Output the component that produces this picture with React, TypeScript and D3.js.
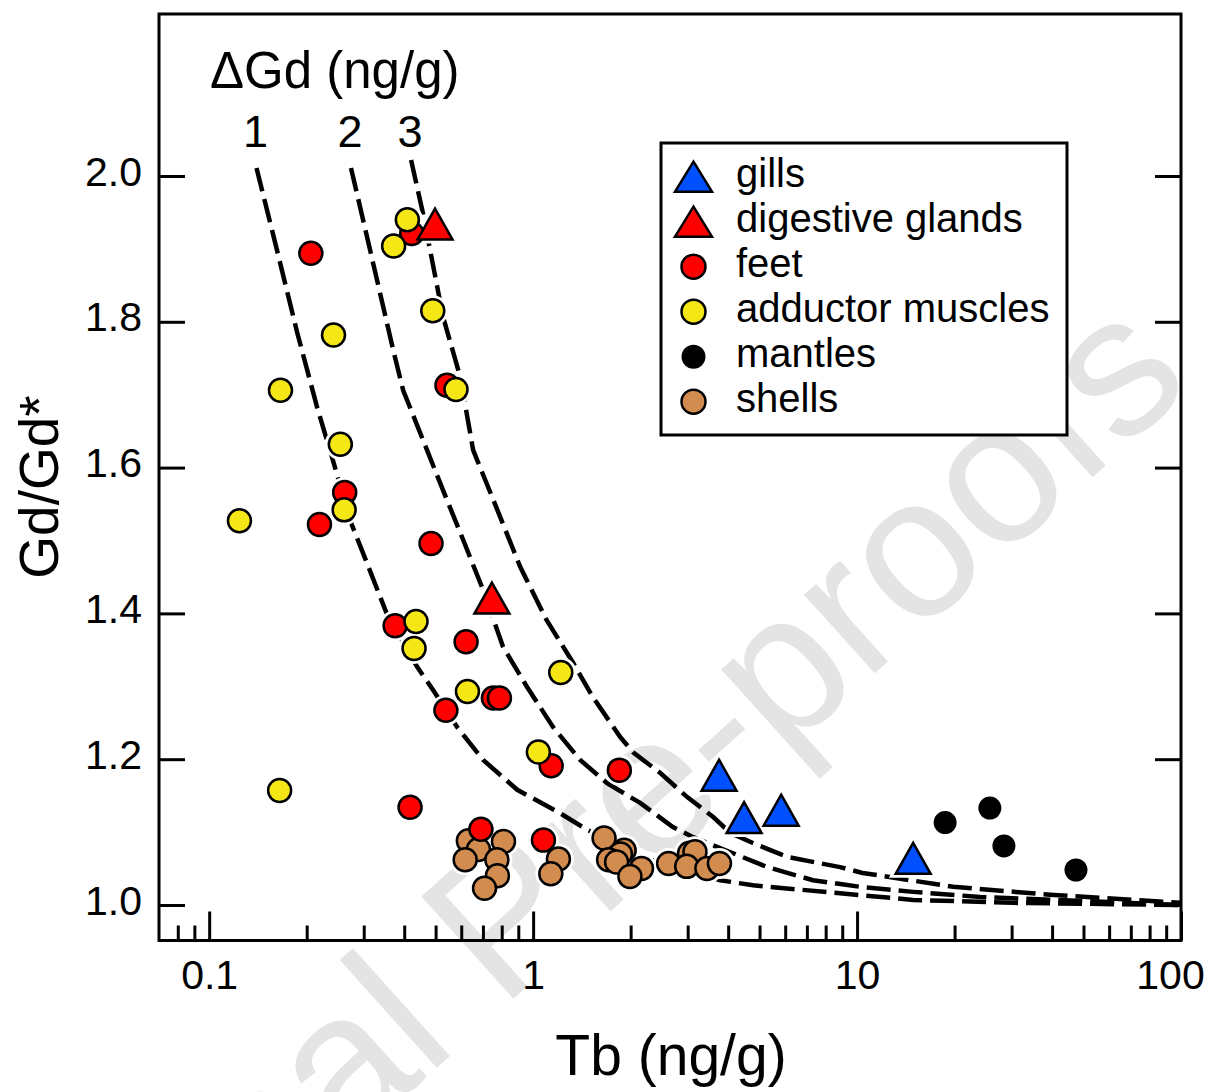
import React, { useEffect, useRef } from "react";
import * as d3 from "d3";

// dashed ΔGd reference curves
const curve1Tb = [0.14, 0.162, 0.187, 0.215, 0.241, 0.272, 0.307, 0.353, 0.438, 0.491, 0.583, 0.701, 0.893, 1.21, 1.47, 2.2, 3.78, 4.77, 8.86, 14.9, 30.3, 100];
const curve1Val = [2.011, 1.898, 1.785, 1.684, 1.61, 1.528, 1.469, 1.4, 1.327, 1.295, 1.244, 1.199, 1.158, 1.126, 1.103, 1.065, 1.034, 1.027, 1.016, 1.007, 1.003, 1.0];
const curve2Tb = [0.274, 0.314, 0.37, 0.397, 0.457, 0.527, 0.608, 0.701, 0.808, 0.958, 1.153, 1.397, 1.692, 2.14, 2.7, 3.12, 4.14, 5.28, 7.31, 10.2, 14.9, 24, 100];
const curve2Val = [2.011, 1.898, 1.761, 1.706, 1.638, 1.569, 1.501, 1.432, 1.354, 1.299, 1.244, 1.199, 1.167, 1.14, 1.107, 1.093, 1.071, 1.052, 1.034, 1.025, 1.018, 1.011, 1.0];
const curve3Tb = [0.42, 0.457, 0.481, 0.527, 0.596, 0.653, 0.753, 0.912, 1.1, 1.33, 1.53, 1.86, 2.04, 2.47, 2.99, 3.59, 4.06, 4.77, 6.08, 8.86, 10.4, 19.8, 39.4, 100];
const curve3Val = [2.022, 1.949, 1.898, 1.807, 1.724, 1.624, 1.556, 1.464, 1.391, 1.332, 1.285, 1.23, 1.209, 1.181, 1.148, 1.121, 1.099, 1.085, 1.066, 1.052, 1.044, 1.025, 1.014, 1.003];
const curveLabels = ["1", "2", "3"];

// samples: Tb (ng/g) and Gd/Gd*
const gillsTb = [3.75, 4.48, 5.83, 14.9];
const gillsRatio = [1.178, 1.12, 1.13, 1.064];
const digestiveTb = [0.498, 0.746];
const digestiveRatio = [1.934, 1.421];
const feetTb = [0.206, 0.422, 0.542, 0.262, 0.219, 0.484, 0.375, 0.621, 0.538, 0.754, 0.787, 1.137, 0.417, 0.69, 1.076, 1.846];
const feetRatio = [1.894, 1.921, 1.713, 1.566, 1.522, 1.496, 1.383, 1.361, 1.267, 1.284, 1.284, 1.191, 1.134, 1.104, 1.089, 1.185];
const adductorTb = [0.409, 0.371, 0.49, 0.242, 0.166, 0.578, 0.254, 0.261, 0.124, 0.435, 0.429, 0.627, 1.217, 1.038, 0.165];
const adductorRatio = [1.94, 1.904, 1.815, 1.782, 1.706, 1.707, 1.632, 1.542, 1.527, 1.389, 1.352, 1.293, 1.319, 1.21, 1.157];
const mantlesTb = [18.7, 25.7, 28.4, 47.4];
const mantlesRatio = [1.113, 1.133, 1.081, 1.048];
const shellsTb = [0.631, 0.678, 0.617, 0.81, 0.773, 0.776, 0.708, 1.197, 1.134, 1.656, 1.91, 1.86, 1.71, 1.81, 2.16, 1.99, 2.62, 3.04, 3.16, 2.98, 3.44, 3.76];
const shellsRatio = [1.088, 1.076, 1.062, 1.087, 1.062, 1.04, 1.023, 1.063, 1.043, 1.092, 1.075, 1.07, 1.062, 1.059, 1.05, 1.039, 1.057, 1.071, 1.073, 1.053, 1.05, 1.057];

const legendLabels = ["gills", "digestive glands", "feet", "adductor muscles", "mantles", "shells"];

const xMajor = [0.1, 1, 10, 100];
const xTickLabels = ["0.1", "1", "10", "100"];
const xMinor = [0.08, 0.09, 0.2, 0.3, 0.4, 0.5, 0.6, 0.7, 0.8, 0.9, 2, 3, 4, 5, 6, 7, 8, 9, 20, 30, 40, 50, 60, 70, 80, 90];
const yTicks = [1.0, 1.2, 1.4, 1.6, 1.8, 2.0];
const yTickLabels = ["1.0", "1.2", "1.4", "1.6", "1.8", "2.0"];

const App = () => {
  const svgRef = useRef<SVGSVGElement>(null);

  useEffect(() => {
    const svg = d3.select(svgRef.current);
    svg.selectAll("*").remove();

    const width = 1209;
    const height = 1092;
    const plot = { left: 159, right: 1181, top: 14, bottom: 940.5 };
    const font = "'Liberation Sans', Arial, sans-serif";

    const x = d3.scaleLog().domain([0.07, 100]).range([plot.left, plot.right]);
    const y = d3.scaleLinear().domain([0.9513, 2.2222]).range([plot.bottom, plot.top]);

    svg.append("rect").attr("width", width).attr("height", height).attr("fill", "#fff");

    // watermark
    svg.append("text")
      .attr("transform", "translate(1195,385) rotate(-42)")
      .attr("text-anchor", "end")
      .attr("font-family", font)
      .attr("font-size", 200)
      .attr("fill", "#e4e4e4")
      .text("Journal Pre-proofs");

    // dashed curves
    const curves = [
      { tb: curve1Tb, v: curve1Val },
      { tb: curve2Tb, v: curve2Val },
      { tb: curve3Tb, v: curve3Val },
    ];
    curves.forEach(c => {
      const line = d3.line<number>()
        .x((d, i) => x(c.tb[i]))
        .y(d => y(d));
      svg.append("path")
        .attr("d", line(c.v))
        .attr("fill", "none")
        .attr("stroke", "#000")
        .attr("stroke-width", 4.5)
        .attr("stroke-dasharray", "24 8");
    });

    curves.forEach((c, i) => {
      svg.append("text")
        .attr("x", x(c.tb[0]) - 1)
        .attr("y", 147)
        .attr("text-anchor", "middle")
        .attr("font-family", font)
        .attr("font-size", 45)
        .text(curveLabels[i]);
    });

    svg.append("text")
      .attr("x", 210)
      .attr("y", 88)
      .attr("font-family", font)
      .attr("font-size", 51)
      .text("ΔGd (ng/g)");

    // markers
    const tri = (w: number, h: number) => `M0,${-h / 2}L${w / 2},${h / 2}L${-w / 2},${h / 2}Z`;
    const series = [
      { tb: shellsTb, v: shellsRatio, shape: "circle", fill: "#d28c50", stroke: true },
      { tb: mantlesTb, v: mantlesRatio, shape: "circle", fill: "#000", stroke: false },
      { tb: feetTb, v: feetRatio, shape: "circle", fill: "#ff0000", stroke: true },
      { tb: adductorTb, v: adductorRatio, shape: "circle", fill: "#f5e616", stroke: true },
      { tb: gillsTb, v: gillsRatio, shape: "tri", fill: "#0050ff", stroke: true },
      { tb: digestiveTb, v: digestiveRatio, shape: "tri", fill: "#ff0000", stroke: true },
    ];

    const drawMark = (g: any, shape: string, cx: number, cy: number) =>
      shape === "circle"
        ? g.append("circle").attr("cx", cx).attr("cy", cy).attr("r", 11.5)
        : g.append("path").attr("d", tri(35, 31)).attr("transform", `translate(${cx},${cy})`);

    const halo = svg.append("g");
    series.forEach(s => {
      s.tb.forEach((t, i) => {
        drawMark(halo, s.shape, x(t), y(s.v[i]))
          .attr("fill", "#fff")
          .attr("stroke", "#fff")
          .attr("stroke-width", 8);
      });
    });

    const marks = svg.append("g");
    series.forEach(s => {
      s.tb.forEach((t, i) => {
        drawMark(marks, s.shape, x(t), y(s.v[i]))
          .attr("fill", s.fill)
          .attr("stroke", s.stroke ? "#000" : "none")
          .attr("stroke-width", 2.5)
          .attr("stroke-linejoin", "miter");
      });
    });

    // axes
    const styleAxis = (g: any) => {
      g.select(".domain").remove();
      g.selectAll("line").attr("stroke", "#000").attr("stroke-width", 3);
      g.selectAll("text").attr("font-family", font).attr("font-size", 41).attr("fill", "#000");
    };

    svg.append("g")
      .attr("transform", `translate(0,${plot.bottom})`)
      .call(d3.axisBottom(x).tickValues(xMinor).tickSize(-15).tickFormat(() => ""))
      .call(styleAxis);

    svg.append("g")
      .attr("transform", `translate(0,${plot.bottom})`)
      .call(d3.axisBottom(x).tickValues(xMajor).tickSize(-29).tickPadding(19)
        .tickFormat((d, i) => xTickLabels[i]))
      .call(styleAxis)
      // keep the last label inside the page, as in the original
      .call((g: any) => g.selectAll("text").filter((d: number) => d === 100).attr("x", -11));

    svg.append("g")
      .attr("transform", `translate(${plot.left},0)`)
      .call(d3.axisLeft(y).tickValues(yTicks).tickSize(-26).tickPadding(17)
        .tickFormat((d, i) => yTickLabels[i]))
      .call(styleAxis)
      .call((g: any) => g.selectAll("text").attr("dy", "0.22em"));

    svg.append("g")
      .attr("transform", `translate(${plot.right},0)`)
      .call(d3.axisRight(y).tickValues(yTicks).tickSize(-26).tickFormat(() => ""))
      .call(styleAxis);

    svg.append("rect")
      .attr("x", plot.left)
      .attr("y", plot.top)
      .attr("width", plot.right - plot.left)
      .attr("height", plot.bottom - plot.top)
      .attr("fill", "none")
      .attr("stroke", "#000")
      .attr("stroke-width", 3);

    // axis titles
    svg.append("text")
      .attr("x", 671)
      .attr("y", 1075)
      .attr("text-anchor", "middle")
      .attr("font-family", font)
      .attr("font-size", 57)
      .text("Tb (ng/g)");

    svg.append("text")
      .attr("transform", "translate(58,487) rotate(-90)")
      .attr("text-anchor", "middle")
      .attr("font-family", font)
      .attr("font-size", 55)
      .text("Gd/Gd*");

    // legend
    const legend = svg.append("g");
    legend.append("rect")
      .attr("x", 661)
      .attr("y", 143)
      .attr("width", 406)
      .attr("height", 292)
      .attr("fill", "#fff")
      .attr("stroke", "#000")
      .attr("stroke-width", 3);

    const legendSeries = [series[4], series[5], series[2], series[3], series[1], series[0]];
    legendLabels.forEach((label, i) => {
      const cy = 176.7 + i * 45;
      const s = legendSeries[i];
      const m = s.shape === "circle"
        ? legend.append("circle").attr("cx", 693.5).attr("cy", cy).attr("r", 12)
        : legend.append("path").attr("d", tri(37, 30)).attr("transform", `translate(693.5,${cy})`);
      m.attr("fill", s.fill)
        .attr("stroke", s.stroke ? "#000" : "none")
        .attr("stroke-width", 2.5);
      legend.append("text")
        .attr("x", 736)
        .attr("y", cy + 10.5)
        .attr("font-family", font)
        .attr("font-size", 40)
        .text(label);
    });
  }, []);

  return (
    <svg
      ref={svgRef}
      width={1209}
      height={1092}
      style={{ position: "absolute", left: 0, top: 0 }}
    />
  );
};

export default App;
